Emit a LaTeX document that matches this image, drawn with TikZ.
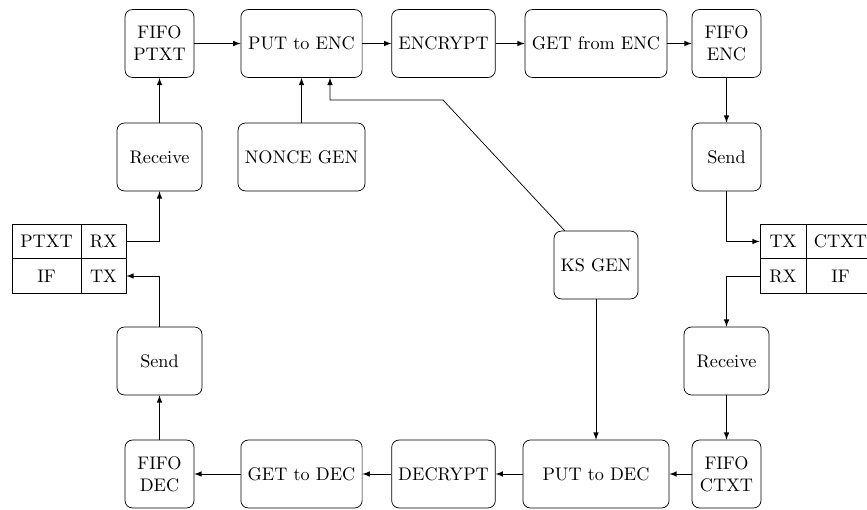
\documentclass[tikz,border=0pt]{standalone}
\usetikzlibrary{arrows}
\usetikzlibrary{positioning}
\usetikzlibrary{calc}
\begin{document}
\begin{tikzpicture}[x=0.0193cm,y=-0.0193cm,>=latex,every node/.style={draw,rounded corners,align=center,minimum height=1.31cm,inner sep=2pt},cell/.style={rounded corners=0pt,minimum height=0.665cm}]
  \useasboundingbox (0,0) rectangle (867,510);
  \node (fifoptxt) at (159.5,43.5)[minimum width=1.33cm]{FIFO\\PTXT};
  \node (putenc) at (301.5,43.5)[minimum width=2.34cm]{PUT to ENC};
  \node (encrypt) at (443.5,43.5)[minimum width=2cm]{ENCRYPT};
  \node (getenc) at (596,43.5)[minimum width=2.74cm]{GET from ENC};
  \node (fifoenc) at (726.5,43.5)[minimum width=1.33cm]{FIFO\\ENC};

  \node (recvl) at (159.5,157)[minimum width=1.64cm]{Receive};
  \node (noncegen) at (301.5,157)[minimum width=2.45cm]{NONCE GEN};
  \node (sendr) at (726.5,157)[minimum width=1.33cm]{Send};

  \node[cell,minimum width=1.33cm] (ptxt) at (46.5,241.5){PTXT};
  \node[cell,minimum width=0.87cm] (rxl) at (103.5,241.5){RX};
  \node[cell,minimum width=1.33cm] (ifl) at (46.5,276){IF};
  \node[cell,minimum width=0.87cm] (txl) at (103.5,276){TX};

  \node[cell,minimum width=0.89cm] (txr) at (783,241.5){TX};
  \node[cell,minimum width=1.33cm] (ctxt) at (840.5,241.5){CTXT};
  \node[cell,minimum width=0.89cm] (rxr) at (783,276){RX};
  \node[cell,minimum width=1.33cm] (ifr) at (840.5,276){IF};

  \node (ksgen) at (596,265)[minimum width=1.62cm]{KS GEN};

  \node (sendl) at (159.5,361)[minimum width=1.64cm]{Send};
  \node (recvr) at (726.5,361)[minimum width=1.64cm]{Receive};

  \node (fifodec) at (159.5,474)[minimum width=1.33cm]{FIFO\\DEC};
  \node (getdec) at (301.5,474)[minimum width=2.34cm]{GET to DEC};
  \node (decrypt) at (443.5,474)[minimum width=2cm]{DECRYPT};
  \node (putdec) at (596,474)[minimum width=2.82cm]{PUT to DEC};
  \node (fifoctxt) at (726.5,474)[minimum width=1.33cm]{FIFO\\CTXT};

  \coordinate (ksbend) at (443,100);

  \draw[->](fifoptxt)--(putenc);
  \draw[->](putenc)--(encrypt);
  \draw[->](encrypt)--(getenc);
  \draw[->](getenc)--(fifoenc);
  \draw[->](fifoenc)--(sendr);
  \draw[->](sendr)|-(txr);
  \draw[->](rxr)-|(recvr);
  \draw[->](recvr)--(fifoctxt);
  \draw[->](fifoctxt)--(putdec);
  \draw[->](putdec)--(decrypt);
  \draw[->](decrypt)--(getdec);
  \draw[->](getdec)--(fifodec);
  \draw[->](fifodec)--(sendl);
  \draw[->](sendl)|-(txl);
  \draw[->](rxl)-|(recvl);
  \draw[->](recvl)--(fifoptxt);
  \draw[->](noncegen)--(putenc);
  \draw[->](ksgen)--(putdec);
  \draw[->]($(ksgen.north west)+(11,0)$)--(ksbend)-|($(putenc.south)+(28.5,0)$);
\end{tikzpicture}
\end{document}
